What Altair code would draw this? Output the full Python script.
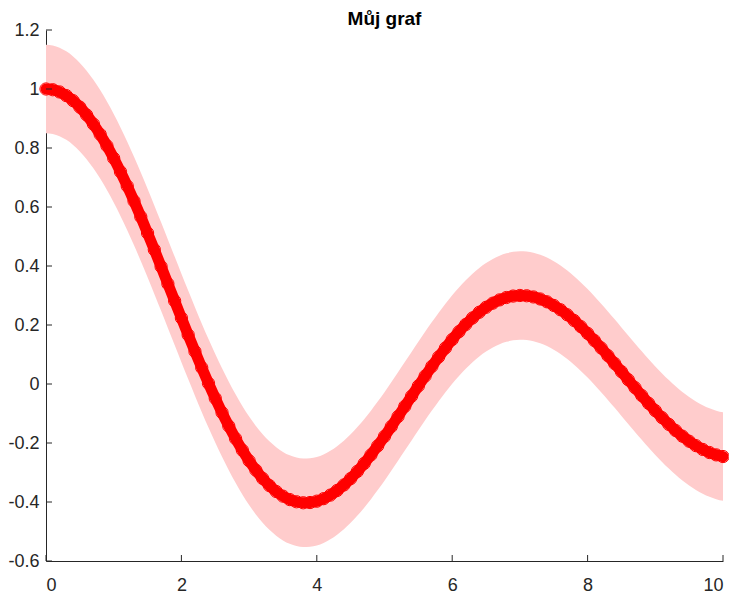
import altair as alt
import pandas as pd

# Sample positions (x) and curve values
x_vals = [round(i * 0.1, 1) for i in range(101)]
y_vals = [
    1.0000, 0.9975, 0.9900, 0.9776, 0.9604, 0.9385, 0.9120, 0.8812, 0.8463, 0.8075,
    0.7652, 0.7196, 0.6711, 0.6201, 0.5669, 0.5118, 0.4554, 0.3980, 0.3400, 0.2818,
    0.2239, 0.1666, 0.1104, 0.0555, 0.0025, -0.0484, -0.0968, -0.1425, -0.1850, -0.2243,
    -0.2601, -0.2921, -0.3202, -0.3443, -0.3643, -0.3801, -0.3918, -0.3992, -0.4026, -0.4018,
    -0.3972, -0.3887, -0.3766, -0.3610, -0.3423, -0.3205, -0.2961, -0.2693, -0.2404, -0.2097,
    -0.1776, -0.1443, -0.1103, -0.0758, -0.0412, -0.0068, 0.0270, 0.0599, 0.0917, 0.1220,
    0.1507, 0.1773, 0.2018, 0.2238, 0.2433, 0.2601, 0.2740, 0.2851, 0.2931, 0.2981,
    0.3001, 0.2991, 0.2951, 0.2882, 0.2786, 0.2663, 0.2516, 0.2346, 0.2154, 0.1944,
    0.1717, 0.1475, 0.1222, 0.0960, 0.0692, 0.0419, 0.0146, -0.0125, -0.0392, -0.0653,
    -0.0903, -0.1142, -0.1368, -0.1577, -0.1768, -0.1939, -0.2090, -0.2218, -0.2323, -0.2403,
    -0.2459,
]
band_half = 0.15
x_ticks = [0, 2, 4, 6, 8, 10]
y_ticks = [-0.6, -0.4, -0.2, 0, 0.2, 0.4, 0.6, 0.8, 1.0, 1.2]
title_text = "Můj graf"

df = pd.DataFrame({"x": x_vals, "y": y_vals})
df["lo"] = df["y"] - band_half
df["hi"] = df["y"] + band_half

W, H = 677, 531
FONT = "Liberation Sans"
AX = "#262626"

xs = alt.Scale(domain=[0, 10], nice=False, zero=False)
ys = alt.Scale(domain=[-0.6, 1.2], nice=False, zero=False)

common = dict(domainColor=AX, domainWidth=1, ticks=False, tickSize=0, grid=False,
              labelColor=AX, labelFont=FONT, labelFontSize=18, title=None)
xaxis = alt.Axis(values=x_ticks, labelPadding=15, format="d", **common)
yaxis = alt.Axis(values=y_ticks, labelPadding=7,
                 labelExpr="replace(format(datum.value, '.1~f'), '\u2212', '-')", **common)

base = alt.Chart(df)

band = base.mark_area(color="#ffcccc", interpolate="monotone").encode(
    x=alt.X("x:Q", scale=xs, axis=xaxis),
    y=alt.Y("lo:Q", scale=ys, axis=yaxis),
    y2="hi:Q",
)

line = base.mark_line(color="red", strokeWidth=11, strokeCap="round",
                      interpolate="monotone").encode(
    x=alt.X("x:Q", scale=xs, axis=xaxis),
    y=alt.Y("y:Q", scale=ys, axis=yaxis),
)

pts = base.mark_point(shape="circle", filled=False, color="red", size=150,
                      strokeWidth=1, opacity=1).encode(
    x=alt.X("x:Q", scale=xs, axis=xaxis),
    y=alt.Y("y:Q", scale=ys, axis=yaxis),
)

xt = alt.Chart(pd.DataFrame({"t": x_ticks})).mark_rule(color=AX, strokeWidth=1).encode(
    x=alt.X("t:Q", scale=xs, axis=xaxis),
    y=alt.value(H),
    y2=alt.value(H - 6),
)
yt = alt.Chart(pd.DataFrame({"t": y_ticks})).mark_rule(color=AX, strokeWidth=1).encode(
    y=alt.Y("t:Q", scale=ys, axis=yaxis),
    x=alt.value(0),
    x2=alt.value(6),
)

title = alt.Chart(pd.DataFrame({"t": [title_text]})).mark_text(
    font=FONT, fontSize=19, fontWeight="bold", color="black",
    align="center", baseline="alphabetic",
).encode(
    text="t:N",
    x=alt.value(W / 2),
    y=alt.value(-5),
)

chart = alt.layer(band, line, pts, xt, yt, title).properties(
    width=W,
    height=H,
    autosize=alt.AutoSizeParams(type="none"),
    padding={"left": 38, "top": 22, "right": 6, "bottom": 33},
).configure_view(stroke=None)

chart.save("out.html", embed_options={"renderer": "svg", "actions": False})
